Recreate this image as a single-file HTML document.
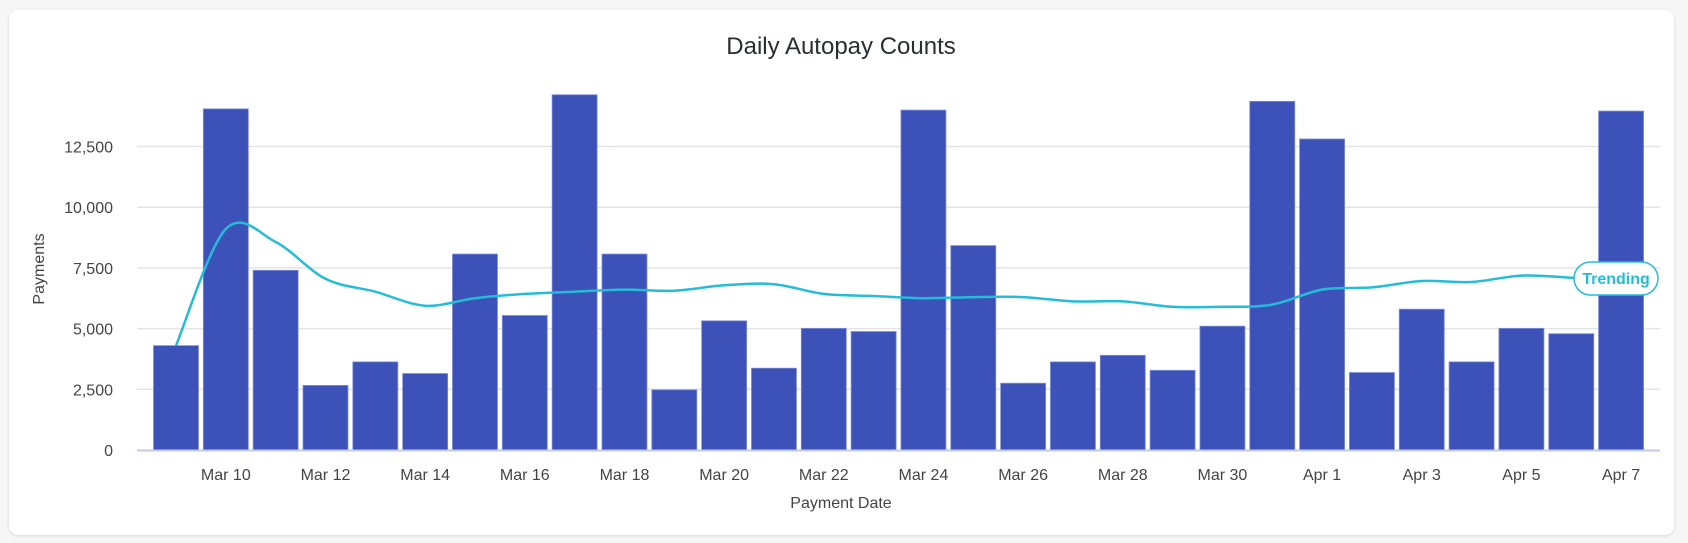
<!DOCTYPE html>
<html><head><meta charset="utf-8"><style>
html,body{margin:0;padding:0;background:#f6f6f6;width:1688px;height:543px;overflow:hidden}
.card{position:absolute;left:9px;top:10px;width:1665px;height:525px;background:#fff;border-radius:9px;box-shadow:0 1px 3px rgba(0,0,0,0.12)}
svg{position:absolute;left:0;top:0}
text{font-family:"Liberation Sans",Arial,sans-serif}
</style></head><body>
<div class="card"></div>
<svg id="s" width="1688" height="543" xmlns="http://www.w3.org/2000/svg">
<text x="841" y="54" text-anchor="middle" font-size="24" fill="#2a2d32">Daily Autopay Counts</text>
<text x="0" y="0" transform="translate(44,269) rotate(-90)" text-anchor="middle" font-size="16" fill="#444">Payments</text>
<text x="841" y="508" text-anchor="middle" font-size="16" fill="#444">Payment Date</text>
</svg>
<script>
var s=document.getElementById('s'),NS='http://www.w3.org/2000/svg';
function el(t,a,txt){var e=document.createElementNS(NS,t);for(var k in a)e.setAttribute(k,a[k]);if(txt)e.textContent=txt;s.appendChild(e);return e;}
var Z=450,K=60.7/2500;
var yl=['0','2,500','5,000','7,500','10,000','12,500'];
for(var i=0;i<6;i++){var y=Z-i*60.7;
 if(i>0)el('line',{x1:137,x2:1660,y1:y,y2:y,stroke:'#e4e4e4','stroke-width':1.5});
 el('text',{x:113,y:y+6,'text-anchor':'end','font-size':16,fill:'#444'},yl[i]);}
var v=[4300,14050,7400,2660,3630,3150,8070,5540,14630,8070,2480,5320,3370,5010,4880,14000,8420,2750,3630,3900,3280,5100,14360,12810,3190,5800,3630,5010,4790,13960];
for(var i=0;i<30;i++){var x=153.5+i*49.83,h=v[i]*K;
 el('rect',{x:x,y:Z-h,width:45,height:h,fill:'#3d52b8',stroke:'#7f8ed6','stroke-width':0.8});}
el('line',{x1:137,x2:1660,y1:Z+0.5,y2:Z+0.5,stroke:'#c5cae9','stroke-width':2});
var lab=['Mar 10','Mar 12','Mar 14','Mar 16','Mar 18','Mar 20','Mar 22','Mar 24','Mar 26','Mar 28','Mar 30','Apr 1','Apr 3','Apr 5','Apr 7'];
for(var j=0;j<15;j++){var c=176+(1+2*j)*49.83;el('text',{x:c,y:480,'text-anchor':'middle','font-size':16,fill:'#444'},lab[j]);}
var ly=[345.6,229,242,278.8,291.7,305.7,298.2,293.9,291.7,289.6,290.7,285.3,284.2,293.9,296,298.2,297.1,297.1,301.4,301.4,306.8,306.8,304.6,289.6,287.4,281,282,275.6,277.7,277.7];
var P=[];for(var i=0;i<29;i++)P.push([176+i*49.83,ly[i]]);P.push([1575,277.7]);
var d='M'+P[0][0]+','+P[0][1];
for(var i=0;i<P.length-1;i++){var p0=P[i-1]||P[i],p1=P[i],p2=P[i+1],p3=P[i+2]||p2;
 d+=' C'+(p1[0]+(p2[0]-p0[0])/6)+','+(p1[1]+(p2[1]-p0[1])/6)+' '+(p2[0]-(p3[0]-p1[0])/6)+','+(p2[1]-(p3[1]-p1[1])/6)+' '+p2[0]+','+p2[1];}
el('path',{d:d,fill:'none',stroke:'#26bcd7','stroke-width':2.5});
el('rect',{x:1574,y:262,width:84,height:33,rx:16.5,fill:'#fff',stroke:'#26bcd7','stroke-width':1.5});
el('text',{x:1616,y:284,'text-anchor':'middle','font-size':16,'font-weight':'bold',fill:'#26bcd7'},'Trending');
</script>
</body></html>
